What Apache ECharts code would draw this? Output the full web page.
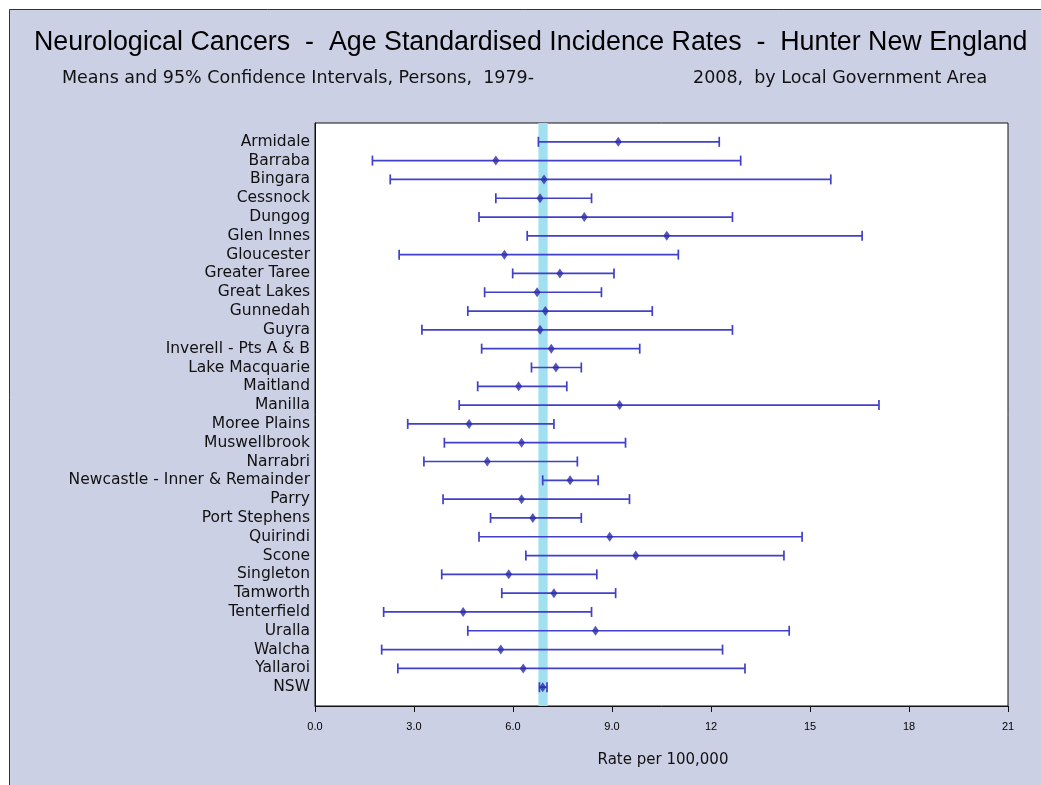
<!DOCTYPE html>
<html>
<head>
<meta charset="utf-8">
<script src="https://cdn.jsdelivr.net/npm/echarts@6/dist/echarts.min.js"></script>
<style>
html,body{margin:0;padding:0;background:#fff;}
#chart{width:1041px;height:785px;}
</style>
</head>
<body>
<div id="chart"></div>
<script>
const categories = ["Armidale","Barraba","Bingara","Cessnock","Dungog","Glen Innes","Gloucester","Greater Taree","Great Lakes","Gunnedah","Guyra","Inverell - Pts A & B","Lake Macquarie","Maitland","Manilla","Moree Plains","Muswellbrook","Narrabri","Newcastle - Inner & Remainder","Parry","Port Stephens","Quirindi","Scone","Singleton","Tamworth","Tenterfield","Uralla","Walcha","Yallaroi","NSW"];
const means = [9.19,5.48,6.94,6.82,8.16,10.66,5.74,7.42,6.73,6.98,6.82,7.16,7.30,6.17,9.23,4.67,6.26,5.22,7.73,6.26,6.60,8.93,9.72,5.87,7.24,4.49,8.50,5.63,6.31,6.90];
const lower = [6.77,1.74,2.28,5.48,4.97,6.43,2.55,5.99,5.14,4.63,3.24,5.05,6.56,4.93,4.37,2.81,3.92,3.30,6.90,3.88,5.32,4.97,6.39,3.84,5.66,2.08,4.63,2.02,2.51,6.80];
const upper = [12.25,12.90,15.63,8.38,12.65,16.58,11.01,9.06,8.68,10.22,12.65,9.84,8.07,7.63,17.09,7.24,9.41,7.95,8.58,9.53,8.07,14.76,14.21,8.54,9.11,8.38,14.37,12.35,13.03,7.03];
const xTicks = ["0.0","3.0","6.0","9.0","12","15","18","21"];
const bandLow = 6.77, bandHigh = 7.05;

const chart = echarts.init(document.getElementById('chart'));
const lineColor = '#4040c8';
const dotColor = '#2b2baa';

const errData = categories.map((c,i)=>[lower[i], upper[i], i]);
const meanData = categories.map((c,i)=>[means[i], i]);

const option = {
  backgroundColor: '#ccd0e5',
  animation: false,
  textStyle: {fontFamily: 'Liberation Sans, Arial, sans-serif'},
  graphic: [
    {type:'rect', shape:{x:9.5,y:9.5,width:1100,height:900}, style:{fill:'none', stroke:'#333', lineWidth:1}, silent:true},
    {type:'rect', shape:{x:0,y:0,width:1041,height:9}, style:{fill:'#ffffff'}, silent:true},
    {type:'rect', shape:{x:0,y:0,width:9,height:785}, style:{fill:'#ffffff'}, silent:true},
    {type:'text', left:34, top:29, style:{text:'Neurological Cancers  -  Age Standardised Incidence Rates  -  Hunter New England', font:'26.8px "Liberation Sans", Arial, sans-serif', fill:'#000'}},
    {type:'text', left:62, top:69, style:{text:'Means and 95% Confidence Intervals, Persons,  1979-', font:'17.5px "DejaVu Sans", sans-serif', fill:'#111'}},
    {type:'text', left:693, top:69, style:{text:'2008,  by Local Government Area', font:'17.5px "DejaVu Sans", sans-serif', fill:'#111'}},
    {type:'text', x:663, y:760, style:{text:'Rate per 100,000', font:'15px "DejaVu Sans", sans-serif', fill:'#111', textAlign:'center', textVerticalAlign:'middle'}}
  ],
  grid: {left:315, right:33, top:123, bottom:79, show:true, backgroundColor:'#ffffff', borderColor:'#111', borderWidth:1},
  xAxis: {
    type:'value', min:0, max:21, interval:3, position:'bottom',
    axisLine:{show:true, onZero:false, lineStyle:{color:'#111'}},
    axisTick:{show:true, inside:false, length:6, lineStyle:{color:'#111'}},
    axisLabel:{color:'#000', fontSize:11, margin:15, formatter:(v)=>xTicks[Math.round(v/3)]},
    splitLine:{show:false}
  },
  yAxis: {
    type:'value', min:-1, max:30, interval:1, inverse:true,
    axisLine:{show:true, onZero:false, lineStyle:{color:'#111'}},
    axisTick:{show:false},
    splitLine:{show:false},
    axisLabel:{color:'#111', fontSize:15.5, fontFamily:'DejaVu Sans', margin:5, formatter:(v)=> (v>=0 && v<categories.length) ? categories[v] : ''}
  },
  series: [
    {
      type:'line', data:[], z:1,
      markArea:{silent:true, itemStyle:{color:'#a0e0f0', opacity:1}, data:[[{xAxis:bandLow},{xAxis:bandHigh}]]}
    },
    {
      type:'custom', z:3,
      data: errData,
      renderItem: function(params, api){
        const y = api.value(2);
        const p1 = api.coord([api.value(0), y]);
        const p2 = api.coord([api.value(1), y]);
        const h = 5;
        const st = {stroke: lineColor, lineWidth:1.7};
        return {type:'group', children:[
          {type:'line', shape:{x1:p1[0],y1:p1[1],x2:p2[0],y2:p2[1]}, style:st},
          {type:'line', shape:{x1:p1[0],y1:p1[1]-h,x2:p1[0],y2:p1[1]+h}, style:st},
          {type:'line', shape:{x1:p2[0],y1:p2[1]-h,x2:p2[0],y2:p2[1]+h}, style:st}
        ]};
      }
    },
    {
      type:'scatter', z:4, data: meanData, symbol:'diamond', symbolSize:[7,10],
      itemStyle:{color: dotColor}
    }
  ]
};
chart.setOption(option);
</script>
</body>
</html>
